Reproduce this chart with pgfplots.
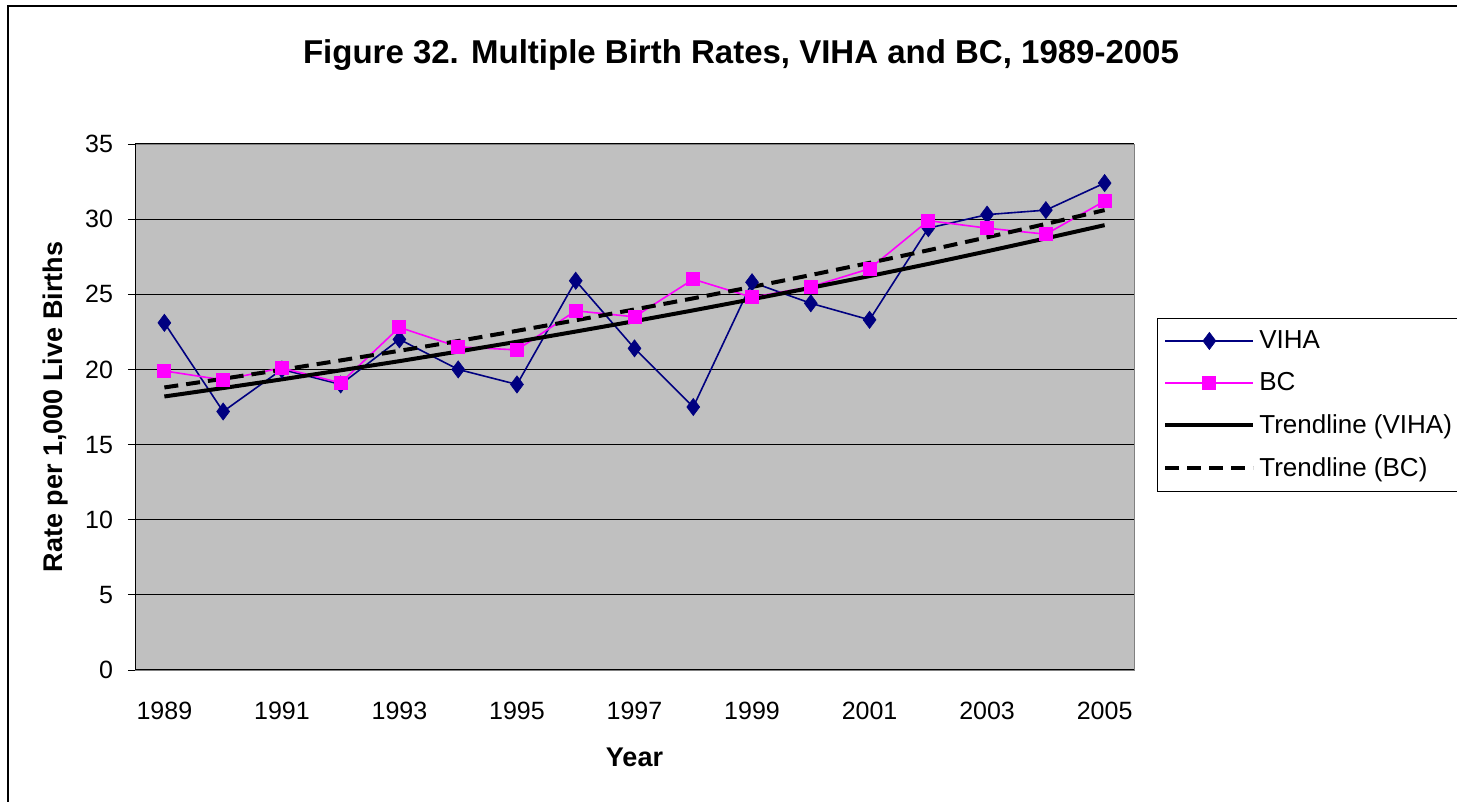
\documentclass[border=0pt]{standalone}
\usepackage{fontspec}
\setmainfont{Liberation Sans}
\usepackage{pgfplots}
\pgfplotsset{compat=1.18}
\definecolor{viha}{HTML}{000080}
\definecolor{bc}{HTML}{FF00FF}
\definecolor{plotbg}{HTML}{C0C0C0}
\begin{document}
\begin{tikzpicture}
\useasboundingbox (0,0) rectangle (728.5pt,401pt);
\clip (0,0) rectangle (728.5pt,401pt);
\draw[line width=1pt] (4pt,0pt) -- (4pt,398pt) -- (728.5pt,398pt);
\node[font=\bfseries\fontsize{16.5}{19}\selectfont] at (370.5pt,373.5pt) {Figure 32. Multiple Birth Rates, VIHA and BC, 1989-2005};
\begin{axis}[
  at={(67.5pt,66pt)}, anchor=south west,
  scale only axis, width=499.5pt, height=263pt,
  xmin=-0.5, xmax=16.5, ymin=0, ymax=35,
  axis background/.style={fill=plotbg},
  axis line style={draw=gray},
  xtick={0,2,...,16},
  xticklabels={1989,1991,1993,1995,1997,1999,2001,2003,2005},
  xtick style={draw=none},
  minor xtick={-0.5,0.5,...,16.5},
  minor tick length=3.5pt,
  major tick length=3.5pt,
  every tick/.style={black, thin},
  ytick={0,5,...,35},
  tick align=outside, tick pos=left,
  ymajorgrids, grid style={black, line width=0.5pt},
  /pgf/number format/assume math mode=true,
  ticklabel style={font=\fontsize{12.5}{14}\selectfont},
  xticklabel style={yshift=-9pt},
  yticklabel style={xshift=-4pt},
  xlabel={Year}, ylabel={Rate per 1,000 Live Births},
  label style={font=\bfseries\fontsize{13.5}{16}\selectfont},
  xlabel style={at={(axis description cs:0.5,-0.167)}, anchor=center},
  ylabel style={at={(axis description cs:-0.080,0.5)}, anchor=center, rotate=0},
  legend style={at={(1.023,0.669)}, anchor=north west, draw=black, fill=white,
    font=\fontsize{13}{15}\selectfont, row sep=6.5pt, inner xsep=3pt, inner ysep=4pt},
  legend cell align=left,
  legend image code/.code={\draw[mark repeat=2,mark phase=2,#1] plot coordinates {(0pt,0pt) (22pt,0pt) (44pt,0pt)};},
]
\addplot[viha, line width=0.8pt, mark=diamond*, mark size=4.3pt, mark options={fill=viha, draw=viha, line width=0.3pt}] coordinates {
(0,23.1) (1,17.2) (2,20.0) (3,19.0) (4,22.0) (5,20.0) (6,19.0) (7,25.9) (8,21.4) (9,17.5) (10,25.8) (11,24.4) (12,23.3) (13,29.4) (14,30.3) (15,30.6) (16,32.4)};
\addlegendentry{VIHA}
\addplot[bc, line width=0.8pt, mark=square*, mark size=3.1pt, mark options={fill=bc, draw=bc}] coordinates {
(0,19.9) (1,19.3) (2,20.1) (3,19.1) (4,22.8) (5,21.5) (6,21.3) (7,23.9) (8,23.5) (9,26.0) (10,24.8) (11,25.5) (12,26.7) (13,29.9) (14,29.4) (15,29.0) (16,31.2)};
\addlegendentry{BC}
\addplot[black, line width=2pt, no marks] coordinates {
(0,18.20) (1,18.76) (2,19.34) (3,19.94) (4,20.55) (5,21.19) (6,21.84) (7,22.52) (8,23.21) (9,23.93) (10,24.67) (11,25.43) (12,26.21) (13,27.02) (14,27.86) (15,28.72) (16,29.60)};
\addlegendentry{Trendline (VIHA)}
\addplot[black, line width=2pt, dash pattern=on 7pt off 4pt, no marks] coordinates {
(0,18.80) (1,19.38) (2,19.98) (3,20.60) (4,21.24) (5,21.89) (6,22.57) (7,23.27) (8,23.99) (9,24.73) (10,25.49) (11,26.28) (12,27.09) (13,27.93) (14,28.79) (15,29.68) (16,30.60)};
\addlegendentry{Trendline (BC)}
\draw[black, thin] (rel axis cs:0,0) -- (rel axis cs:0,1);
\draw[black, thin] (rel axis cs:0,0) -- (rel axis cs:1,0);
\end{axis}
\end{tikzpicture}
\end{document}
